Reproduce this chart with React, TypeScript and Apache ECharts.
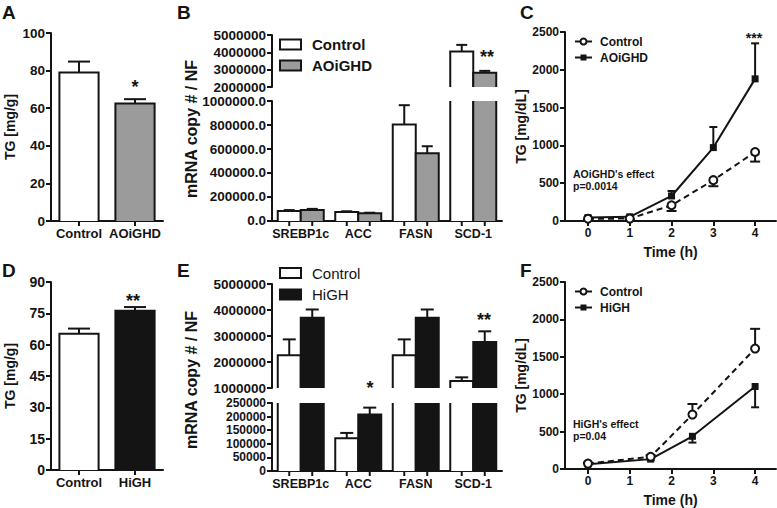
import React, { useEffect, useRef } from "react";
import * as echarts from "echarts";

const FONT = "'Liberation Sans', Arial, Helvetica, sans-serif";
const INK = "#141414";
const GREY = "#9b9b9b";

// Panel A
const aCategories = ["Control", "AOiGHD"];
const aMeans = [79, 62.5];
const aSEM = [5.8, 2.3];

// Panel B
const bGenes = ["SREBP1c", "ACC", "FASN", "SCD-1"];
const bControl = [83000, 75000, 805000, 4050000];
const bControlSEM = [8000, 6000, 160000, 380000];
const bAOiGHD = [92000, 64000, 565000, 2820000];
const bAOiGHDSEM = [9000, 5000, 58000, 110000];
const bLowerTicks = [0, 200000, 400000, 600000, 800000, 1000000];

// Panel C
const cTimes = [0, 1, 2, 3, 4];
const cControl = [30, 32, 208, 540, 913];
const cControlSEM = [12, 10, 76, 80, 127];
const cAOiGHD = [45, 55, 331, 971, 1880];
const cAOiGHDSEM = [18, 15, 66, 272, 470];

// Panel D
const dCategories = ["Control", "HiGH"];
const dMeans = [65.2, 76.2];
const dSEM = [2.5, 1.8];

// Panel E
const eGenes = ["SREBP1c", "ACC", "FASN", "SCD-1"];
const eControl = [2260000, 120000, 2260000, 1270000];
const eControlSEM = [610000, 20000, 610000, 140000];
const eHiGH = [3700000, 208000, 3700000, 2770000];
const eHiGHSEM = [320000, 25000, 320000, 410000];
const eLowerTicks = [0, 50000, 100000, 150000, 200000, 250000];

// Panel F
const fTimes = [0, 1.5, 2.5, 4];
const fControl = [72, 164, 728, 1610];
const fControlSEM = [10, 20, 141, 264];
const fHiGH = [65, 132, 437, 1103];
const fHiGHSEM = [10, 15, 84, 278];

const timeTicks = [0, 1, 2, 3, 4];

const lineSt = { stroke: INK, lineWidth: 2 };

function barSeries(grid: number, pairs: number[][], nGroups: number, groupIdx: number, fill: string, frac: number, yMin: number, yMax: number, ticks: boolean) {
  return {
    type: "custom",
    xAxisIndex: grid,
    yAxisIndex: grid,
    data: pairs,
    encode: { x: 0, y: 1 },
    z: 2,
    renderItem: (params: any, api: any) => {
      const cs = params.coordSys;
      const top = cs.y;
      const bottom = cs.y + cs.height;
      const cat = api.value(0);
      const v = api.value(1);
      const band = api.size([1, 0])[0];
      const pairW = band * frac;
      const barW = pairW / nGroups;
      const cx = api.coord([cat, yMin])[0];
      const x0 = cx - pairW / 2 + groupIdx * barW;
      const x1 = x0 + barW;
      const xc = (x0 + x1) / 2;
      const children: any[] = [];
      if (ticks) {
        children.push({ type: "line", shape: { x1: xc, y1: bottom, x2: xc, y2: bottom + 5 }, style: lineSt });
      }
      if (v > yMin) {
        const clipped = v > yMax;
        const yT = clipped ? top : api.coord([cat, v])[1];
        children.push({ type: "rect", shape: { x: x0, y: yT, width: barW, height: bottom - yT }, style: { fill } });
        if (clipped) {
          children.push({ type: "line", shape: { x1: x0, y1: bottom, x2: x0, y2: yT }, style: lineSt });
          children.push({ type: "line", shape: { x1: x1, y1: bottom, x2: x1, y2: yT }, style: lineSt });
        } else {
          children.push({
            type: "polyline",
            shape: { points: [[x0, bottom], [x0, yT], [x1, yT], [x1, bottom]] },
            style: { ...lineSt, fill: null, lineJoin: "miter" },
          });
        }
      }
      return { type: "group", children };
    },
  };
}

function errSeries(grid: number, xs: number[], means: number[], sems: number[], dir: number, isCat: boolean, nGroups: number, groupIdx: number, frac: number, capW: number, yMin: number, yMax: number) {
  return {
    type: "custom",
    xAxisIndex: grid,
    yAxisIndex: grid,
    data: means.map((m, i) => [xs[i], m, sems[i]]),
    encode: { x: 0, y: 1 },
    z: 1,
    renderItem: (params: any, api: any) => {
      const x = api.value(0);
      const m = api.value(1);
      const e = api.value(2);
      if (m < yMin || m > yMax) return { type: "group", children: [] };
      let xc = api.coord([x, m])[0];
      if (isCat) {
        const band = api.size([1, 0])[0];
        const pairW = band * frac;
        const barW = pairW / nGroups;
        xc = xc - pairW / 2 + groupIdx * barW + barW / 2;
      }
      const y1 = api.coord([x, m])[1];
      const y2 = api.coord([x, m + dir * e])[1];
      return {
        type: "group",
        children: [
          { type: "line", shape: { x1: xc, y1, x2: xc, y2 }, style: lineSt },
          { type: "line", shape: { x1: xc - capW / 2, y1: y2, x2: xc + capW / 2, y2 }, style: lineSt },
        ],
      };
    },
  };
}

const axisLine = { show: true, onZero: false, lineStyle: { color: INK, width: 2 } };
const tickSt = { show: true, length: 5, lineStyle: { color: INK, width: 2 } };
const lbl = (size: number) => ({
  color: INK, fontFamily: FONT, fontWeight: "bold", fontSize: size, margin: 6,
  showMinLabel: true, showMaxLabel: true, hideOverlap: false,
});
const catLbl = (size: number) => ({ ...lbl(size), interval: 0 });
const nameSt = (size: number) => ({ color: INK, fontFamily: FONT, fontWeight: "bold", fontSize: size });
const plain = (v: number) => String(v);

function txt(x: number, y: number, text: string, size: number, opts: any = {}) {
  return {
    type: "text",
    x,
    y,
    rotation: opts.rotation || 0,
    style: {
      text,
      fill: INK,
      font: `${opts.weight || "bold"} ${size}px ${FONT}`,
      align: opts.align || "left",
      verticalAlign: opts.va || "middle",
    },
  };
}

export default function App() {
  const ref = useRef<HTMLDivElement>(null);
  useEffect(() => {
    if (!ref.current) return;
    const chart = echarts.init(ref.current, undefined, { renderer: "svg" });
    const BF = 0.8;
    const option: any = {
      animation: false,
      backgroundColor: "#ffffff",
      grid: [
        { left: 51, top: 33, width: 112, height: 188 },
        { left: 272, top: 35, width: 230, height: 52 },
        { left: 272, top: 101, width: 230, height: 120 },
        { left: 565, top: 32, width: 211, height: 189 },
        { left: 51, top: 282, width: 112, height: 188 },
        { left: 272, top: 284, width: 230, height: 104 },
        { left: 272, top: 403, width: 230, height: 68 },
        { left: 565, top: 282, width: 211, height: 189 },
        // overlay grids carrying only the gene names (B, E)
        { left: 272, top: 101, width: 230, height: 120 },
        { left: 272, top: 403, width: 230, height: 68 },
        // overlay grids carrying only the lower y tick labels (B, E)
        { left: 272, top: 101, width: 230, height: 120 },
        { left: 272, top: 403, width: 230, height: 68 },
        // overlay grid carrying only the zero label of E's lower axis
        { left: 272, top: 403, width: 230, height: 68 },
      ],
      xAxis: [
        { gridIndex: 0, type: "category", data: aCategories, axisLine, axisTick: { ...tickSt, alignWithLabel: true }, axisLabel: catLbl(13) },
        { gridIndex: 1, type: "category", data: bGenes, show: false },
        { gridIndex: 2, type: "category", data: bGenes, axisLine, axisTick: { show: false }, axisLabel: { show: false } },
        {
          gridIndex: 3, type: "value", min: -0.55, max: 4.5, axisLine,
          axisTick: { ...tickSt, customValues: timeTicks },
          axisLabel: { ...lbl(12), customValues: timeTicks },
          splitLine: { show: false },
          name: "Time (h)", nameLocation: "middle", nameGap: 24, nameTextStyle: nameSt(14),
        },
        { gridIndex: 4, type: "category", data: dCategories, axisLine, axisTick: { ...tickSt, alignWithLabel: true }, axisLabel: catLbl(13) },
        { gridIndex: 5, type: "category", data: eGenes, show: false },
        { gridIndex: 6, type: "category", data: eGenes, axisLine, axisTick: { show: false }, axisLabel: { show: false } },
        {
          gridIndex: 7, type: "value", min: -0.55, max: 4.5, axisLine,
          axisTick: { ...tickSt, customValues: timeTicks },
          axisLabel: { ...lbl(12), customValues: timeTicks },
          splitLine: { show: false },
          name: "Time (h)", nameLocation: "middle", nameGap: 24, nameTextStyle: nameSt(14),
        },
        { gridIndex: 8, type: "category", data: bGenes, axisLine: { show: false }, axisTick: { show: false }, axisLabel: catLbl(12.5) },
        { gridIndex: 9, type: "category", data: eGenes, axisLine: { show: false }, axisTick: { show: false }, axisLabel: catLbl(12.5) },
        { gridIndex: 10, type: "value", show: false },
        { gridIndex: 11, type: "value", show: false },
        { gridIndex: 12, type: "value", show: false },
      ],
      yAxis: [
        { gridIndex: 0, type: "value", min: 0, max: 100, interval: 20, axisLine, axisTick: tickSt, axisLabel: lbl(13.5), splitLine: { show: false }, name: "TG [mg/g]", nameLocation: "middle", nameGap: 34, nameTextStyle: nameSt(14) },
        { gridIndex: 1, type: "value", min: 2000000, max: 5000000, interval: 1000000, axisLine, axisTick: tickSt, axisLabel: { ...lbl(13.5), formatter: plain }, splitLine: { show: false } },
        { gridIndex: 2, type: "value", min: 0, max: 1000000, interval: 200000, axisLine, axisTick: tickSt, axisLabel: { show: false }, splitLine: { show: false } },
        { gridIndex: 3, type: "value", min: 0, max: 2500, interval: 500, axisLine, axisTick: tickSt, axisLabel: { ...lbl(12), formatter: plain }, splitLine: { show: false }, name: "TG [mg/dL]", nameLocation: "middle", nameGap: 37, nameTextStyle: nameSt(14) },
        { gridIndex: 4, type: "value", min: 0, max: 90, interval: 15, axisLine, axisTick: tickSt, axisLabel: lbl(14), splitLine: { show: false }, name: "TG [mg/g]", nameLocation: "middle", nameGap: 34, nameTextStyle: nameSt(14) },
        { gridIndex: 5, type: "value", min: 1000000, max: 5000000, interval: 1000000, axisLine, axisTick: tickSt, axisLabel: { ...lbl(13.5), formatter: plain }, splitLine: { show: false } },
        { gridIndex: 6, type: "value", min: 0, max: 250000, interval: 50000, axisLine, axisTick: tickSt, axisLabel: { show: false }, splitLine: { show: false } },
        { gridIndex: 7, type: "value", min: 0, max: 2500, interval: 500, axisLine, axisTick: tickSt, axisLabel: { ...lbl(12), formatter: plain }, splitLine: { show: false }, name: "TG [mg/dL]", nameLocation: "middle", nameGap: 37, nameTextStyle: nameSt(14) },
        { gridIndex: 8, type: "value", show: false },
        { gridIndex: 9, type: "value", show: false },
        {
          gridIndex: 10, type: "value", min: -1, max: 1000000,
          axisLine: { show: false }, axisTick: { show: false },
          axisLabel: { ...lbl(13.5), customValues: bLowerTicks, formatter: (v: number) => Number(v).toFixed(1) },
          splitLine: { show: false },
        },
        {
          gridIndex: 11, type: "value", min: -1, max: 250000,
          axisLine: { show: false }, axisTick: { show: false },
          axisLabel: { ...lbl(12), customValues: eLowerTicks.slice(1), formatter: plain },
          splitLine: { show: false },
        },
        {
          gridIndex: 12, type: "value", min: -1, max: 250000,
          axisLine: { show: false }, axisTick: { show: false },
          axisLabel: { ...lbl(12), customValues: eLowerTicks.slice(0, 1), formatter: plain },
          splitLine: { show: false },
        },
      ],
      series: [
        // A
        barSeries(0, [[0, aMeans[0]]], 1, 0, "#ffffff", 0.7, 0, 100, false),
        barSeries(0, [[1, aMeans[1]]], 1, 0, GREY, 0.7, 0, 100, false),
        errSeries(0, [0, 1], aMeans, aSEM, 1, true, 1, 0, 0.7, 22, 0, 100),
        // B upper
        barSeries(1, bControl.map((v, i) => [i, v]), 2, 0, "#ffffff", BF, 2000000, 5000000, false),
        barSeries(1, bAOiGHD.map((v, i) => [i, v]), 2, 1, GREY, BF, 2000000, 5000000, false),
        errSeries(1, [0, 1, 2, 3], bControl, bControlSEM, 1, true, 2, 0, BF, 11, 2000000, 5000000),
        errSeries(1, [0, 1, 2, 3], bAOiGHD, bAOiGHDSEM, 1, true, 2, 1, BF, 11, 2000000, 5000000),
        // B lower
        barSeries(2, bControl.map((v, i) => [i, v]), 2, 0, "#ffffff", BF, 0, 1000000, true),
        barSeries(2, bAOiGHD.map((v, i) => [i, v]), 2, 1, GREY, BF, 0, 1000000, true),
        errSeries(2, [0, 1, 2, 3], bControl, bControlSEM, 1, true, 2, 0, BF, 11, 0, 1000000),
        errSeries(2, [0, 1, 2, 3], bAOiGHD, bAOiGHDSEM, 1, true, 2, 1, BF, 11, 0, 1000000),
        // C
        errSeries(3, cTimes, cControl, cControlSEM, -1, false, 1, 0, 1, 10, 0, 2500),
        errSeries(3, cTimes, cAOiGHD, cAOiGHDSEM, 1, false, 1, 0, 1, 8, 0, 2500),
        {
          type: "line", xAxisIndex: 3, yAxisIndex: 3, z: 3,
          data: cTimes.map((t, i) => [t, cAOiGHD[i]]),
          symbol: "rect", symbolSize: 7,
          lineStyle: { color: INK, width: 2 },
          itemStyle: { color: INK },
        },
        {
          type: "line", xAxisIndex: 3, yAxisIndex: 3, z: 4,
          data: cTimes.map((t, i) => [t, cControl[i]]),
          symbol: "emptyCircle", symbolSize: 8,
          lineStyle: { color: INK, width: 2, type: [6, 4] },
          itemStyle: { color: INK, borderWidth: 2 },
        },
        // D
        barSeries(4, [[0, dMeans[0]]], 1, 0, "#ffffff", 0.7, 0, 90, false),
        barSeries(4, [[1, dMeans[1]]], 1, 0, INK, 0.7, 0, 90, false),
        errSeries(4, [0, 1], dMeans, dSEM, 1, true, 1, 0, 0.7, 22, 0, 90),
        // E upper
        barSeries(5, eControl.map((v, i) => [i, v]), 2, 0, "#ffffff", BF, 1000000, 5000000, false),
        barSeries(5, eHiGH.map((v, i) => [i, v]), 2, 1, INK, BF, 1000000, 5000000, false),
        errSeries(5, [0, 1, 2, 3], eControl, eControlSEM, 1, true, 2, 0, BF, 13, 1000000, 5000000),
        errSeries(5, [0, 1, 2, 3], eHiGH, eHiGHSEM, 1, true, 2, 1, BF, 13, 1000000, 5000000),
        // E lower
        barSeries(6, eControl.map((v, i) => [i, v]), 2, 0, "#ffffff", BF, 0, 250000, true),
        barSeries(6, eHiGH.map((v, i) => [i, v]), 2, 1, INK, BF, 0, 250000, true),
        errSeries(6, [0, 1, 2, 3], eControl, eControlSEM, 1, true, 2, 0, BF, 13, 0, 250000),
        errSeries(6, [0, 1, 2, 3], eHiGH, eHiGHSEM, 1, true, 2, 1, BF, 13, 0, 250000),
        // F
        errSeries(7, fTimes, fControl, fControlSEM, 1, false, 1, 0, 1, 10, 0, 2500),
        errSeries(7, fTimes, fHiGH, fHiGHSEM, -1, false, 1, 0, 1, 8, 0, 2500),
        {
          type: "line", xAxisIndex: 7, yAxisIndex: 7, z: 3,
          data: fTimes.map((t, i) => [t, fHiGH[i]]),
          symbol: "rect", symbolSize: 7,
          lineStyle: { color: INK, width: 2 },
          itemStyle: { color: INK },
        },
        {
          type: "line", xAxisIndex: 7, yAxisIndex: 7, z: 4,
          data: fTimes.map((t, i) => [t, fControl[i]]),
          symbol: "emptyCircle", symbolSize: 8,
          lineStyle: { color: INK, width: 2, type: [6, 4] },
          itemStyle: { color: INK, borderWidth: 2 },
        },
      ],
      graphic: [
        // panel letters
        txt(2, 12, "A", 19),
        txt(177, 12, "B", 19),
        txt(520, 12, "C", 19),
        txt(2, 270, "D", 19),
        txt(177, 270, "E", 19),
        txt(520, 270, "F", 19),
        // rotated y titles for split axes
        txt(191, 129, "mRNA copy # / NF", 16, { rotation: Math.PI / 2, align: "center" }),
        txt(191, 380, "mRNA copy # / NF", 16, { rotation: Math.PI / 2, align: "center" }),
        // legend B
        { type: "rect", shape: { x: 280, y: 39.5, width: 21, height: 10 }, style: { fill: "#ffffff", stroke: INK, lineWidth: 2 } },
        { type: "rect", shape: { x: 280, y: 60.5, width: 21, height: 10 }, style: { fill: GREY, stroke: INK, lineWidth: 2 } },
        txt(312, 44.5, "Control", 15),
        txt(312, 65.5, "AOiGHD", 15),
        // legend E
        { type: "rect", shape: { x: 280, y: 268, width: 21, height: 10 }, style: { fill: "#ffffff", stroke: INK, lineWidth: 2 } },
        { type: "rect", shape: { x: 280, y: 289.5, width: 21, height: 10 }, style: { fill: INK, stroke: INK, lineWidth: 2 } },
        txt(312, 273, "Control", 15, { weight: "normal" }),
        txt(312, 294, "HiGH", 15, { weight: "normal" }),
        // legend C
        { type: "line", shape: { x1: 575, y1: 41.5, x2: 592, y2: 41.5 }, style: lineSt },
        { type: "circle", shape: { cx: 583.5, cy: 41.5, r: 3 }, style: { fill: "#ffffff", stroke: INK, lineWidth: 2 } },
        txt(600, 41.5, "Control", 12),
        { type: "line", shape: { x1: 575, y1: 57.5, x2: 592, y2: 57.5 }, style: lineSt },
        { type: "rect", shape: { x: 580.5, y: 54.5, width: 6, height: 6 }, style: { fill: INK } },
        txt(600, 57.5, "AOiGHD", 12),
        // legend F
        { type: "line", shape: { x1: 575, y1: 291.5, x2: 592, y2: 291.5 }, style: lineSt },
        { type: "circle", shape: { cx: 583.5, cy: 291.5, r: 3 }, style: { fill: "#ffffff", stroke: INK, lineWidth: 2 } },
        txt(600, 291.5, "Control", 12),
        { type: "line", shape: { x1: 575, y1: 307.5, x2: 592, y2: 307.5 }, style: lineSt },
        { type: "rect", shape: { x: 580.5, y: 304.5, width: 6, height: 6 }, style: { fill: INK } },
        txt(600, 307.5, "HiGH", 12),
        // effect annotations
        txt(573, 174, "AOiGHD's effect", 10.5),
        txt(573, 186, "p=0.0014", 10.5),
        txt(573, 424, "HiGH's effect", 10.5),
        txt(573, 436, "p=0.04", 10.5),
        // significance marks
        txt(135, 87, "*", 18, { align: "center" }),
        txt(487, 57, "**", 18, { align: "center" }),
        txt(754, 38, "***", 14, { align: "center" }),
        txt(133, 301, "**", 18, { align: "center" }),
        txt(370, 388, "*", 18, { align: "center" }),
        txt(484, 320, "**", 18, { align: "center" }),
      ],
    };
    chart.setOption(option);
    return () => chart.dispose();
  }, []);
  return <div ref={ref} style={{ position: "absolute", left: 0, top: 0, width: 777, height: 508 }} />;
}
